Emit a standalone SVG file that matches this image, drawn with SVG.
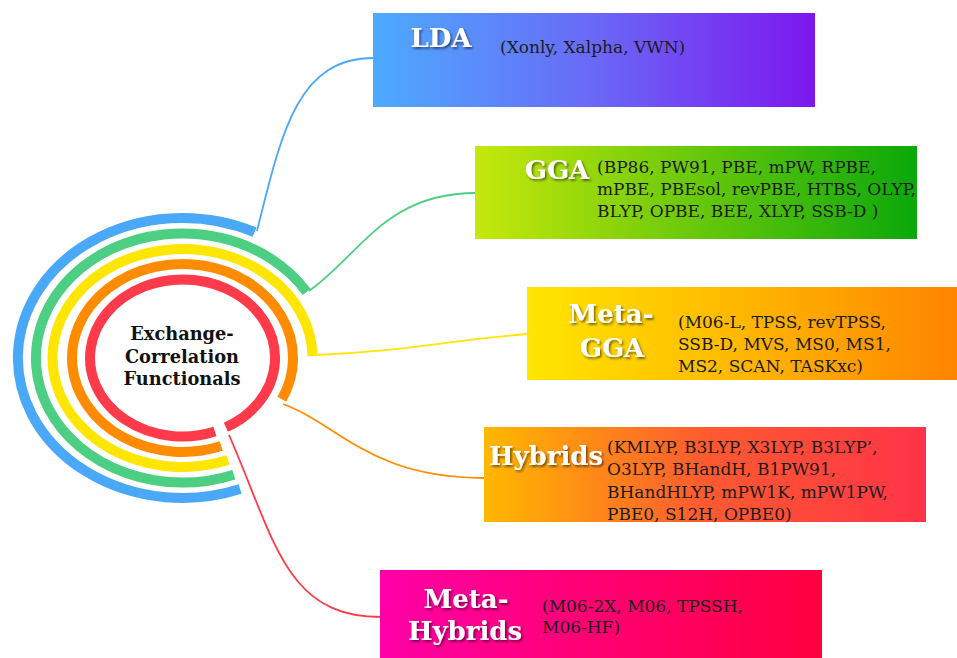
<svg xmlns="http://www.w3.org/2000/svg" width="957" height="658" viewBox="0 0 957 658">
<style>
.ring{fill:none;stroke-width:10;stroke-linecap:butt}
.conn{fill:none;stroke-width:1.8}
.title{font-family:"DejaVu Serif","Liberation Serif",serif;font-weight:bold;font-size:26px;fill:#ffffff;text-anchor:middle;filter:url(#shadow)}
.body{font-family:"DejaVu Serif","Liberation Serif",serif;font-size:17px;fill:#1c1c1c}
.center{font-family:"DejaVu Serif","Liberation Serif",serif;font-weight:bold;font-size:17.8px;fill:#111111;text-anchor:middle}
</style>
<defs>
<filter id="shadow" x="-20%" y="-30%" width="140%" height="160%">
<feDropShadow dx="1.5" dy="1.8" stdDeviation="1" flood-color="#000000" flood-opacity="0.55"/>
</filter>
<linearGradient id="gLDA" x1="0" y1="0" x2="1" y2="0">
<stop offset="0" stop-color="#4dabff"/><stop offset="0.5" stop-color="#6a68f6"/><stop offset="1" stop-color="#7d17ee"/>
</linearGradient>
<linearGradient id="gGGA" x1="0" y1="0" x2="1" y2="0">
<stop offset="0" stop-color="#c6e80c"/><stop offset="1" stop-color="#0ba80a"/>
</linearGradient>
<linearGradient id="gMGGA" x1="0" y1="0" x2="1" y2="0">
<stop offset="0" stop-color="#ffe600"/><stop offset="0.5" stop-color="#ffb700"/><stop offset="1" stop-color="#ff8400"/>
</linearGradient>
<linearGradient id="gHyb" x1="0" y1="0" x2="1" y2="0">
<stop offset="0" stop-color="#ffb800"/><stop offset="0.5" stop-color="#ff5a30"/><stop offset="1" stop-color="#ff3348"/>
</linearGradient>
<linearGradient id="gMHyb" x1="0" y1="0" x2="1" y2="0">
<stop offset="0" stop-color="#ff00a8"/><stop offset="0.5" stop-color="#ff0070"/><stop offset="1" stop-color="#ff0040"/>
</linearGradient>
</defs>
<rect width="957" height="658" fill="#ffffff"/>

<g id="hub">
<path class="ring" stroke="#4aa8f8" d="M254.6,232.2 A164.5,140 0 1 0 240.1,489.1"/>
<path class="ring" stroke="#4ccf82" d="M306.7,292.0 A146.5,124.6 0 1 0 233.8,474.7"/>
<path class="ring" stroke="#ffe600" d="M312.5,356.1 A130,109 0 1 0 228.0,460.1"/>
<path class="ring" stroke="#ff8c00" d="M281.8,399.2 A110.5,94 0 1 0 221.2,446.0"/>
<path class="ring" stroke="#ff3a4a" d="M225.9,427.3 A92.5,78.5 0 1 0 214.9,431.5"/>
<text class="center" x="182" y="340">Exchange-</text>
<text class="center" x="182" y="363">Correlation</text>
<text class="center" x="182" y="385">Functionals</text>
</g>

<g id="connectors">
<path class="conn" stroke="#4aa8f8" d="M257,231 C282,130 298,58 374,58"/>
<path class="conn" stroke="#4ccf82" d="M309,291 C360,255 385,193 476,193"/>
<path class="conn" stroke="#ffe600" d="M316,355 C400,352 450,340 528,334"/>
<path class="conn" stroke="#ff8c00" d="M283,404 C340,425 370,478 485,478"/>
<path class="conn" stroke="#ff3a4a" d="M229,435 C275,540 285,617 381,617"/>
</g>

<g id="lda">
<rect x="373" y="13" width="442" height="94" fill="url(#gLDA)"/>
<text class="title" x="441" y="47">LDA</text>
<text class="body" x="500" y="53">(Xonly, Xalpha, VWN)</text>
</g>

<g id="gga">
<rect x="475" y="146" width="442" height="93" fill="url(#gGGA)"/>
<text class="title" x="557" y="179">GGA</text>
<text class="body" x="597" y="173">(BP86, PW91, PBE, mPW, RPBE,</text>
<text class="body" x="597" y="195">mPBE, PBEsol, revPBE, HTBS, OLYP,</text>
<text class="body" x="597" y="217">BLYP, OPBE, BEE, XLYP, SSB-D )</text>
</g>

<g id="metagga">
<rect x="527" y="287" width="430" height="93" fill="url(#gMGGA)"/>
<text class="title" x="611" y="323">Meta-</text>
<text class="title" x="612" y="357">GGA</text>
<text class="body" x="678" y="328">(M06-L, TPSS, revTPSS,</text>
<text class="body" x="678" y="350">SSB-D, MVS, MS0, MS1,</text>
<text class="body" x="678" y="372">MS2, SCAN, TASKxc)</text>
</g>

<g id="hybrids">
<rect x="484" y="427" width="442" height="95" fill="url(#gHyb)"/>
<text class="title" x="546" y="465">Hybrids</text>
<text class="body" x="607" y="453">(KMLYP, B3LYP, X3LYP, B3LYP’,</text>
<text class="body" x="607" y="475">O3LYP, BHandH, B1PW91,</text>
<text class="body" x="607" y="498">BHandHLYP, mPW1K, mPW1PW,</text>
<text class="body" x="607" y="520">PBE0, S12H, OPBE0)</text>
</g>

<g id="metahybrids">
<rect x="380" y="570" width="442" height="88" fill="url(#gMHyb)"/>
<text class="title" x="466" y="608">Meta-</text>
<text class="title" x="465" y="640">Hybrids</text>
<text class="body" x="542" y="612">(M06-2X, M06, TPSSH,</text>
<text class="body" x="542" y="633">M06-HF)</text>
</g>
</svg>
